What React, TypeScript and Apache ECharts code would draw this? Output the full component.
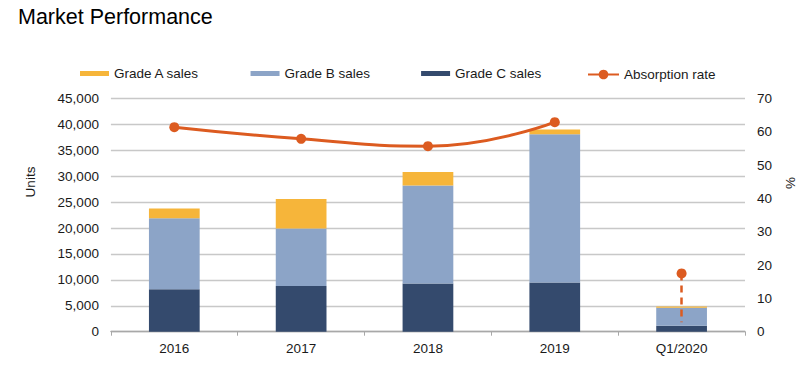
import React, { useEffect, useRef } from "react";
import * as echarts from "echarts";

const categories = ["2016", "2017", "2018", "2019", "Q1/2020"];
const gradeA = [1850, 5700, 2600, 900, 250];
const gradeB = [13700, 11100, 18900, 28600, 3450];
const gradeC = [8200, 8800, 9300, 9500, 1150];
const absorption = [61.4, 57.9, 55.7, 62.9, null];
const absorptionQ1 = [null, null, null, null, 17.5];
const q1DashBottom = 2.8;
const leftTicks = { min: 0, max: 45000, interval: 5000 };
const rightTicks = { min: 0, max: 70, interval: 10 };

const FONT = "Liberation Sans, Arial, sans-serif";
const COL_A = "#F6B53A";
const COL_B = "#8CA4C7";
const COL_C = "#344A6D";
const COL_LINE = "#DC5B20";

export default function App() {
  const ref = useRef<HTMLDivElement>(null);
  useEffect(() => {
    document.body.style.margin = "0";
    const chart = echarts.init(ref.current!, null, { renderer: "svg" });
    const txt = { fontFamily: FONT, fontSize: 13.5, color: "#1a1a1a" };
    chart.setOption({
      animation: false,
      backgroundColor: "#ffffff",
      title: {
        text: "Market Performance",
        left: 18,
        top: 6,
        padding: 0,
        textStyle: { fontFamily: FONT, fontSize: 21.5, fontWeight: "normal", color: "#000" },
      },
      graphic: [
        {
          type: "text",
          x: 30,
          y: 182,
          rotation: Math.PI / 2,
          style: { text: "Units", font: `13.5px ${FONT}`, fill: "#1a1a1a", textAlign: "center", textVerticalAlign: "middle" },
        },
        {
          type: "text",
          x: 790,
          y: 183,
          rotation: Math.PI / 2,
          style: { text: "%", font: `13.5px ${FONT}`, fill: "#1a1a1a", textAlign: "center", textVerticalAlign: "middle" },
        },
      ],
      legend: [
        {
          data: ["Grade A sales", "Grade B sales", "Grade C sales"],
          left: 80,
          top: 66.5,
          padding: 0,
          itemWidth: 29,
          itemHeight: 5,
          itemGap: 51,
          icon: "rect",
          textStyle: txt,
        },
        {
          data: ["Absorption rate"],
          left: 587,
          top: 67.5,
          padding: 0,
          itemWidth: 31,
          itemHeight: 12,
          textStyle: txt,
        },
      ],
      grid: { left: 110.9, right: 55, top: 98.5, bottom: 33.3, containLabel: false },
      xAxis: {
        type: "category",
        data: categories,
        axisLine: { lineStyle: { color: "#A8A8A8", width: 1.3 } },
        axisTick: { show: true, length: 4, lineStyle: { color: "#A8A8A8" } },
        axisLabel: { ...txt, margin: 10 },
      },
      yAxis: [
        {
          type: "value",
          ...leftTicks,
          axisLine: { show: false },
          axisTick: { show: false },
          axisLabel: {
            ...txt,
            margin: 12,
            formatter: (v: number) => v.toLocaleString("en-US"),
          },
          splitLine: { lineStyle: { color: "#C8C8C8", width: 1.4 } },
        },
        {
          type: "value",
          ...rightTicks,
          position: "right",
          axisLine: { show: false },
          axisTick: { show: false },
          axisLabel: { ...txt, margin: 12 },
          splitLine: { show: false },
        },
      ],
      series: [
        { name: "Grade C sales", type: "bar", stack: "s", data: gradeC, barWidth: "40%", itemStyle: { color: COL_C } },
        { name: "Grade B sales", type: "bar", stack: "s", data: gradeB, itemStyle: { color: COL_B } },
        { name: "Grade A sales", type: "bar", stack: "s", data: gradeA, itemStyle: { color: COL_A } },
        {
          name: "Absorption rate",
          type: "line",
          yAxisIndex: 1,
          data: absorption,
          smooth: 0.5,
          symbol: "circle",
          symbolSize: 10,
          lineStyle: { color: COL_LINE, width: 3 },
          itemStyle: { color: COL_LINE },
        },
        {
          name: "Absorption rate",
          type: "line",
          yAxisIndex: 1,
          data: absorptionQ1,
          symbol: "circle",
          symbolSize: 10,
          lineStyle: { color: COL_LINE, width: 3 },
          itemStyle: { color: COL_LINE },
          z: 5,
          markLine: {
            silent: true,
            symbol: "none",
            label: { show: false },
            lineStyle: { color: COL_LINE, width: 2.5, type: [7, 5] },
            data: [
              [
                { coord: [categories[4], absorptionQ1[4]] },
                { coord: [categories[4], q1DashBottom] },
              ],
            ],
          },
        },
      ],
    });
    return () => chart.dispose();
  }, []);
  return <div ref={ref} style={{ width: 800, height: 365 }} />;
}
